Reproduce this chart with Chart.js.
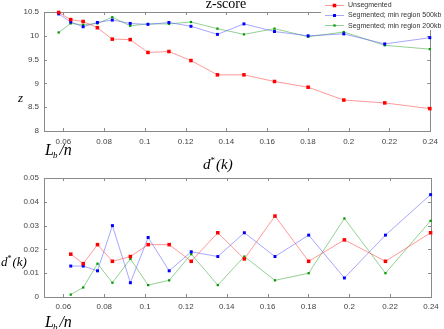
<!DOCTYPE html>
<html>
<head>
<meta charset="utf-8">
<script src="https://cdn.jsdelivr.net/npm/chart.js@4.4.1/dist/chart.umd.min.js"></script>
<style>
  html, body { margin: 0; padding: 0; background: #fff; }
  body { width: 444px; height: 329px; position: relative; overflow: hidden; }
  .box { position: absolute; left: 0; width: 444px; }
  #topBox { top: 0; height: 160px; }
  #botBox { top: 150px; height: 179px; }
</style>
</head>
<body>
<div class="box" id="topBox"><canvas id="zChart"></canvas></div>
<div class="box" id="botBox"><canvas id="dChart"></canvas></div>
<script>
// series names (legend)
const seriesNames = ["Unsegmented", "Segmented; min region 500kb", "Segmented; min region 200kb"];

// L_b/n positions, top panel (z-score)
const zX = [0.0577, 0.0636, 0.0697, 0.0767, 0.084, 0.0928, 0.1015, 0.1118,
            0.1226, 0.1356, 0.1486, 0.1636, 0.1801, 0.1976, 0.2177, 0.2398];
const zUnseg = [10.49, 10.34, 10.30, 10.17, 9.93, 9.92, 9.65, 9.67,
                9.48, 9.18, 9.18, 9.04, 8.92, 8.65, 8.59, 8.47];
const z500 = [10.46, 10.29, 10.19, 10.28, 10.33, 10.26, 10.24, 10.28,
              10.20, 10.03, 10.25, 10.09, 10.00, 10.04, 9.83, 9.96];
const z200 = [10.07, 10.26, 10.23, 10.26, 10.39, 10.21, 10.25, 10.25,
              10.29, 10.15, 10.03, 10.15, 9.98, 10.08, 9.80, 9.72];

// L_b/n positions, bottom panel (d*(k))
const dX = [0.0636, 0.0697, 0.0767, 0.084, 0.0928, 0.1015, 0.1118, 0.1226,
            0.1356, 0.1486, 0.1636, 0.1801, 0.1976, 0.2177, 0.2398];
const dUnseg = [0.018, 0.014, 0.022, 0.015, 0.017, 0.022, 0.022, 0.015,
                0.027, 0.016, 0.034, 0.015, 0.024, 0.015, 0.027];
const d500 = [0.013, 0.013, 0.011, 0.030, 0.006, 0.025, 0.011, 0.019,
              0.017, 0.027, 0.017, 0.026, 0.008, 0.026, 0.043];
const d200 = [0.001, 0.004, 0.014, 0.006, 0.016, 0.005, 0.007, 0.018,
              0.005, 0.017, 0.007, 0.010, 0.033, 0.010, 0.032];

// ticks
const xTicks = [0.06, 0.08, 0.1, 0.12, 0.14, 0.16, 0.18, 0.2, 0.22, 0.24];
const xTickLabels = ["0.06", "0.08", "0.1", "0.12", "0.14", "0.16", "0.18", "0.2", "0.22", "0.24"];
const zTicks = [8, 8.5, 9, 9.5, 10, 10.5];
const zTickLabels = ["8", "8.5", "9", "9.5", "10", "10.5"];
const dTicks = [0, 0.01, 0.02, 0.03, 0.04, 0.05];
const dTickLabels = ["0", "0.01", "0.02", "0.03", "0.04", "0.05"];

const markerColors = ["#ff0000", "#0000ff", "#009a00"];
const lineColors = ["rgba(255,70,70,0.55)", "rgba(80,80,255,0.5)", "rgba(60,170,60,0.55)"];
const markerSizes = [2.5, 2.1, 1.6];

const tickFont = { family: "'Liberation Sans', Arial, sans-serif", size: 8 };
const serif = "'Liberation Serif', 'Times New Roman', serif";

function makeDatasets(xs, series) {
  return series.map((ys, i) => ({
    label: seriesNames[i],
    data: xs.map((x, j) => ({ x: x, y: ys[j] })),
    borderColor: lineColors[i],
    borderWidth: 1,
    backgroundColor: markerColors[i],
    pointStyle: "rect",
    pointRadius: markerSizes[i],
    pointBackgroundColor: markerColors[i],
    pointBorderColor: markerColors[i],
    pointBorderWidth: 0,
    tension: 0,
    clip: false,
  }));
}

// box around the plot with inward tick marks on all sides
const framePlugin = {
  id: "frame",
  beforeDatasetsDraw(chart) {
    const { ctx, chartArea: a, scales } = chart;
    ctx.save();
    ctx.strokeStyle = "#8a8a8a";
    ctx.lineWidth = 1;
    ctx.strokeRect(Math.round(a.left) + 0.5, Math.round(a.top) + 0.5,
                   Math.round(a.right - a.left), Math.round(a.bottom - a.top));
    ctx.beginPath();
    scales.x.ticks.forEach((t) => {
      const px = Math.round(scales.x.getPixelForValue(t.value)) + 0.5;
      ctx.moveTo(px, a.bottom); ctx.lineTo(px, a.bottom - 3);
      ctx.moveTo(px, a.top); ctx.lineTo(px, a.top + 3);
    });
    scales.y.ticks.forEach((t) => {
      const py = Math.round(scales.y.getPixelForValue(t.value)) + 0.5;
      ctx.moveTo(a.left, py); ctx.lineTo(a.left + 3, py);
      ctx.moveTo(a.right, py); ctx.lineTo(a.right - 3, py);
    });
    ctx.stroke();
    ctx.restore();
  },
};

function drawLbn(ctx, x, y) {
  ctx.fillStyle = "#000";
  ctx.textBaseline = "alphabetic";
  ctx.textAlign = "left";
  ctx.font = "italic 16px " + serif;
  ctx.fillText("L", x, y);
  let w = ctx.measureText("L").width;
  ctx.font = "italic 9px " + serif;
  ctx.fillText("b", x + w - 1, y + 3);
  w += ctx.measureText("b").width;
  ctx.font = "italic 16px " + serif;
  ctx.fillText("/n", x + w + 1, y);
}

function drawDk(ctx, x, y, size) {
  ctx.fillStyle = "#000";
  ctx.textBaseline = "alphabetic";
  ctx.textAlign = "left";
  ctx.font = "italic " + size + "px " + serif;
  ctx.fillText("d", x, y);
  let w = ctx.measureText("d").width;
  ctx.font = Math.round(size * 0.6) + "px " + serif;
  ctx.fillText("*", x + w, y - size * 0.35);
  w += ctx.measureText("*").width + 1;
  ctx.font = "italic " + size + "px " + serif;
  ctx.fillText("(k)", x + w, y);
}

const zLabels = {
  id: "zLabels",
  afterDraw(chart) {
    const ctx = chart.ctx;
    ctx.save();
    ctx.fillStyle = "#000";
    ctx.font = "14px " + serif;
    ctx.textAlign = "center";
    ctx.textBaseline = "alphabetic";
    ctx.fillText("z-score", 226, 7.5);
    ctx.font = "italic 13px " + serif;
    ctx.textAlign = "left";
    ctx.fillText("z", 18, 101.5);
    drawLbn(ctx, 45, 155);

    // legend box over the top-right corner
    ctx.fillStyle = "#fff";
    ctx.fillRect(321, 0, 123, 30);
    chart.data.datasets.forEach((ds, i) => {
      const y = 4.5 + i * 10.3;
      ctx.strokeStyle = ds.borderColor;
      ctx.lineWidth = 1;
      ctx.beginPath();
      ctx.moveTo(325, Math.round(y) + 0.5);
      ctx.lineTo(344, Math.round(y) + 0.5);
      ctx.stroke();
      ctx.fillStyle = ds.pointBackgroundColor;
      const s = ds.pointRadius * Math.SQRT2;
      ctx.fillRect(334.5 - s / 2, Math.round(y) + 0.5 - s / 2, s, s);
      ctx.fillStyle = "#333";
      ctx.font = "7px 'Liberation Sans', Arial, sans-serif";
      ctx.textBaseline = "middle";
      ctx.fillText(ds.label, 348, y + 0.5);
    });
    ctx.restore();
  },
};

const dLabels = {
  id: "dLabels",
  afterDraw(chart) {
    const ctx = chart.ctx;
    ctx.save();
    drawDk(ctx, 203, 18.5, 15);
    drawDk(ctx, 1, 115.5, 13);
    drawLbn(ctx, 45, 177);
    ctx.restore();
  },
};

function baseOptions(yTicks, yLabels, yMin, yMax, padTop, xHeight, xPad) {
  return {
    responsive: true,
    maintainAspectRatio: false,
    animation: false,
    devicePixelRatio: 1,
    layout: { padding: { top: padTop, right: 13, left: 0, bottom: 0 } },
    plugins: { legend: { display: false }, title: { display: false }, tooltip: { enabled: false } },
    scales: {
      x: {
        type: "linear",
        min: 0.0505,
        max: 0.24,
        grid: { display: false, drawTicks: false },
        border: { display: false },
        afterBuildTicks: (scale) => { scale.ticks = xTicks.map((v) => ({ value: v })); },
        afterFit: (scale) => { scale.height = xHeight; },
        ticks: {
          font: tickFont, color: "#444", padding: xPad, maxRotation: 0, autoSkip: false,
          callback: (v, i) => xTickLabels[i],
        },
      },
      y: {
        type: "linear",
        min: yMin,
        max: yMax,
        grid: { display: false, drawTicks: false },
        border: { display: false },
        afterBuildTicks: (scale) => { scale.ticks = yTicks.map((v) => ({ value: v })); },
        afterFit: (scale) => { scale.width = 44; },
        ticks: {
          font: tickFont, color: "#444", padding: 5, autoSkip: false,
          callback: (v, i) => yLabels[i],
        },
      },
    },
  };
}

new Chart(document.getElementById("zChart"), {
  type: "line",
  data: { datasets: makeDatasets(zX, [zUnseg, z500, z200]) },
  options: baseOptions(zTicks, zTickLabels, 8, 10.5, 12, 29, 6),
  plugins: [framePlugin, zLabels],
});

new Chart(document.getElementById("dChart"), {
  type: "line",
  data: { datasets: makeDatasets(dX, [dUnseg, d500, d200]) },
  options: baseOptions(dTicks, dTickLabels, 0, 0.05, 28, 32, 5),
  plugins: [framePlugin, dLabels],
});
</script>
</body>
</html>
